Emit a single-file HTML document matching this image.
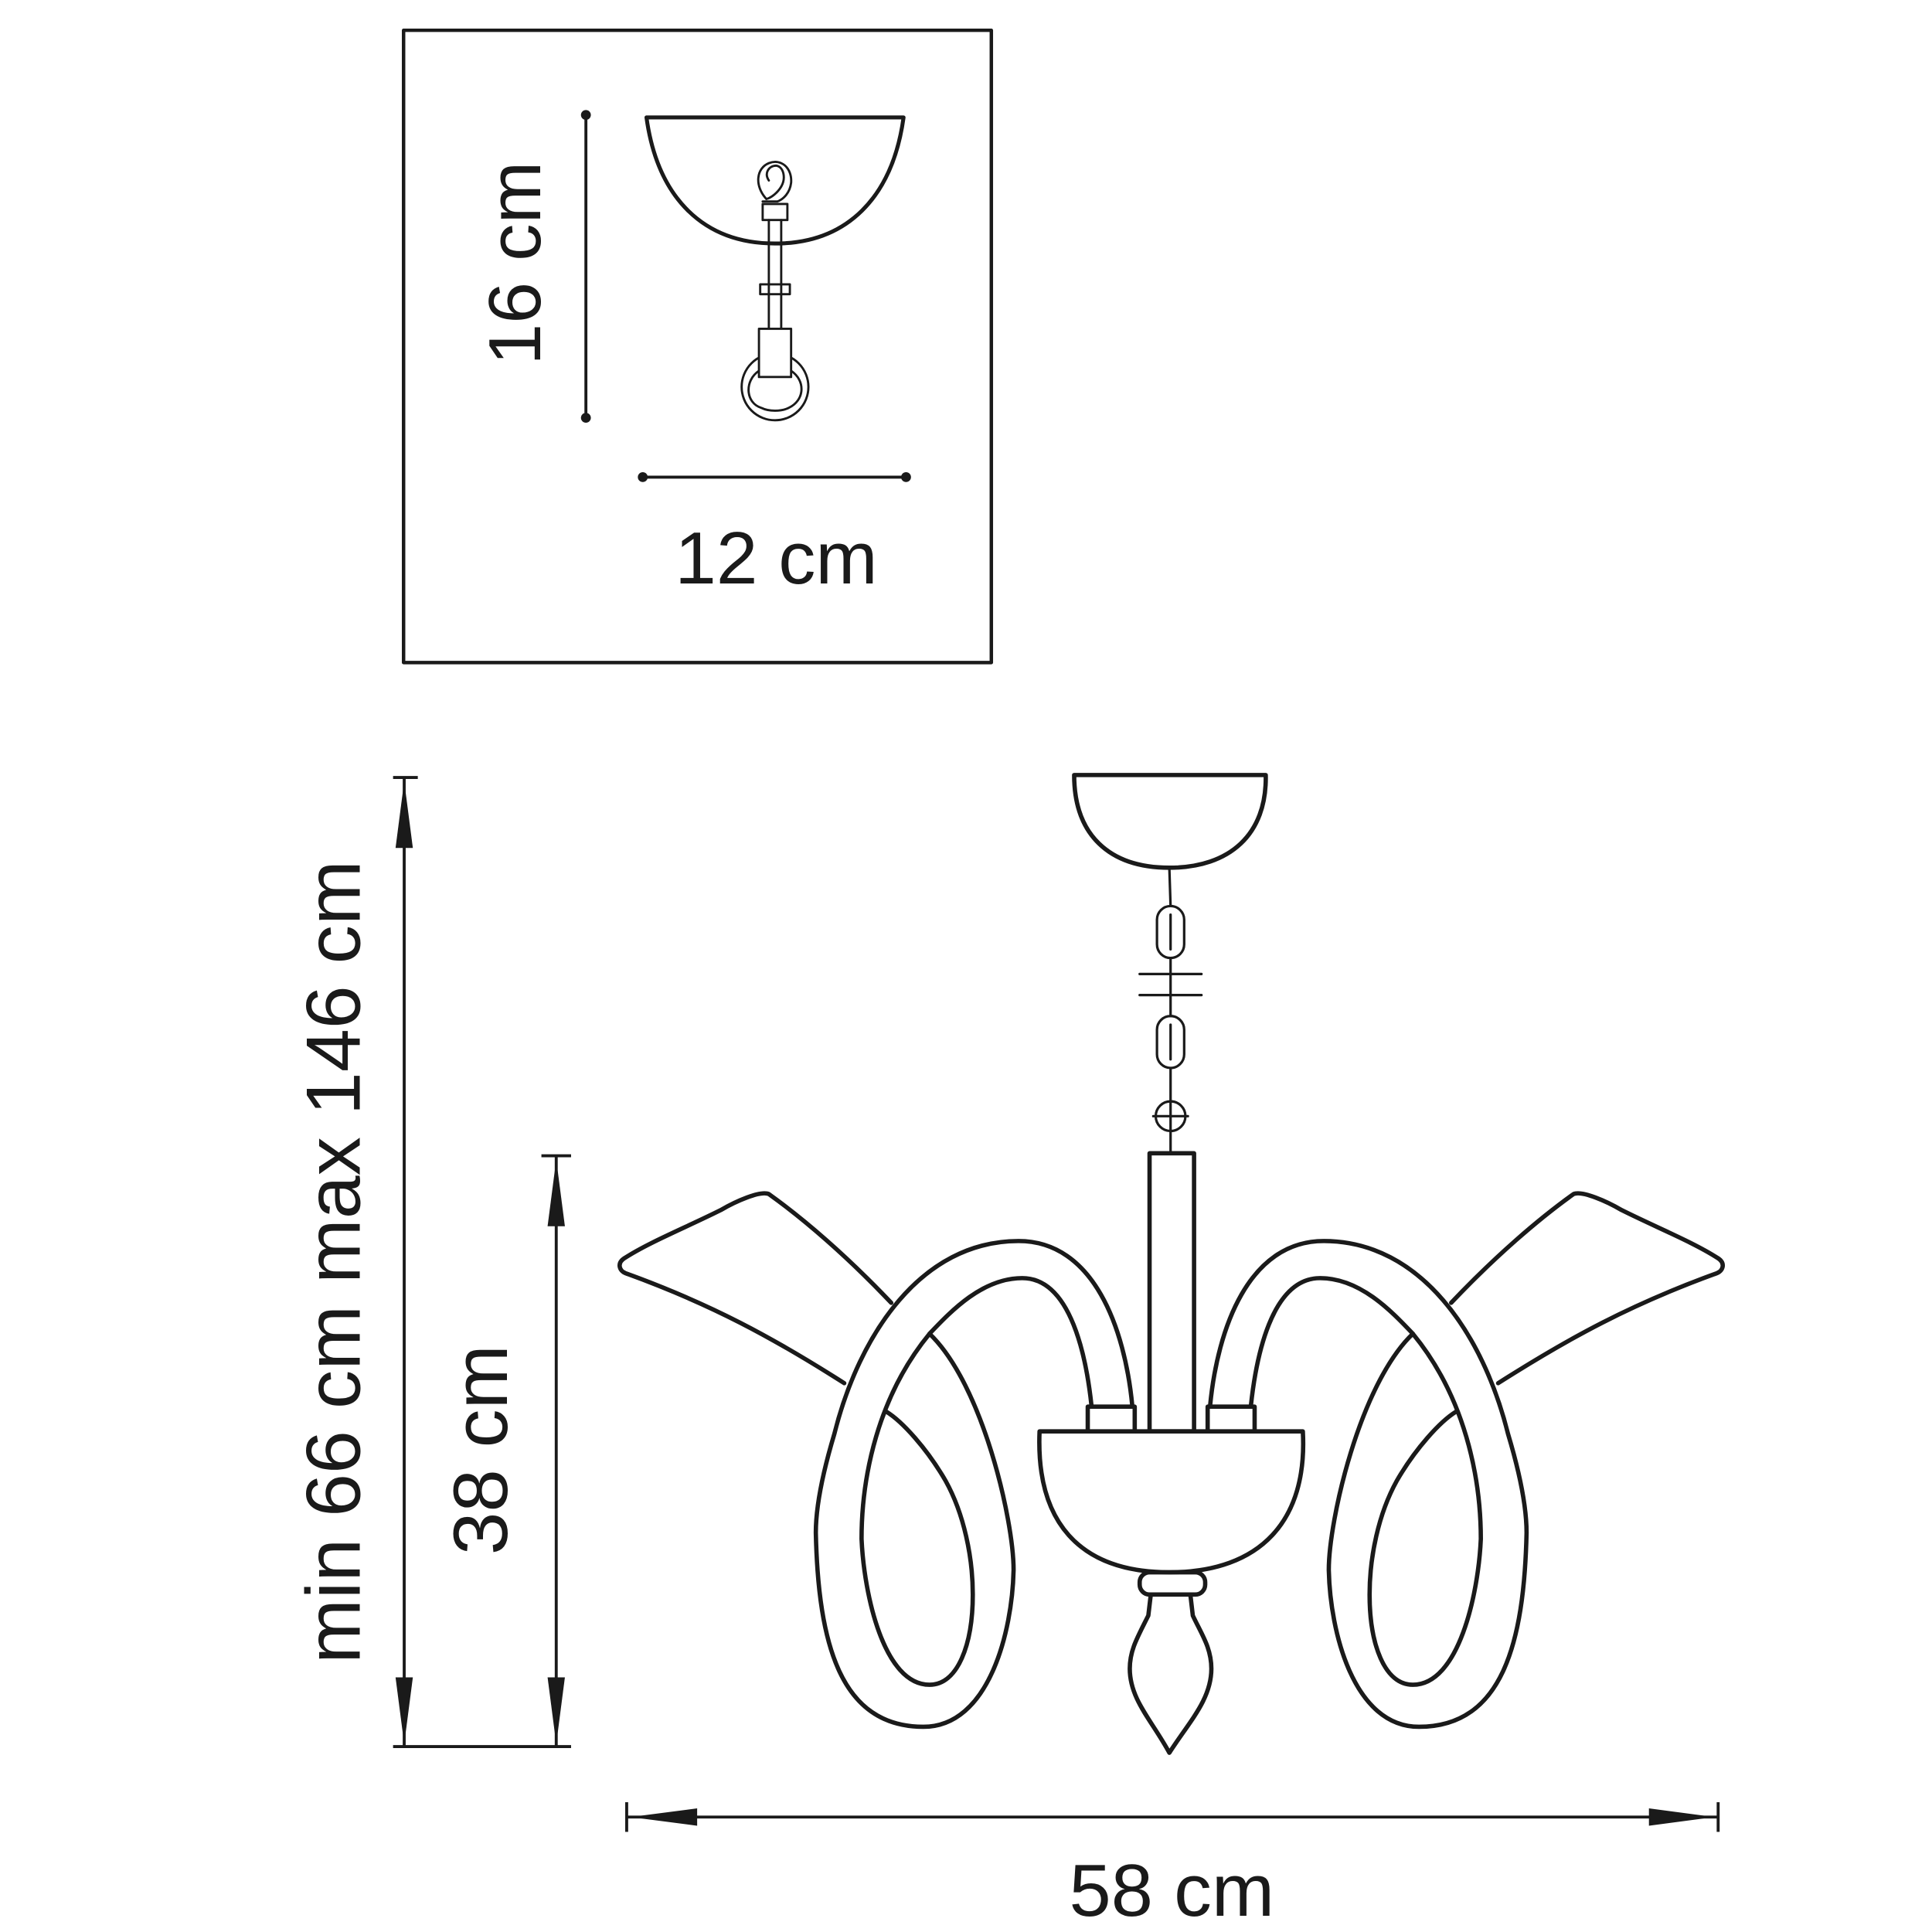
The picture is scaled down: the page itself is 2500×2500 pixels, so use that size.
<!DOCTYPE html>
<html><head><style>html,body{margin:0;padding:0;background:#fff}svg{display:block}</style></head>
<body>
<svg width="2500" height="2500" viewBox="0 0 1563 1563" xmlns="http://www.w3.org/2000/svg">
<g fill="none" stroke="#1a1a1a" stroke-width="3.2" stroke-linejoin="round" stroke-linecap="round">
<rect x="326.5" y="24.5" width="475.5" height="511.5" stroke-width="2.8"/>
<line x1="474" y1="93" x2="474" y2="338" stroke-width="2.4"/>
<line x1="520" y1="386" x2="733" y2="386" stroke-width="2.4"/>
<path d="M523,95 L731,95 C722,160 685,197 627,197 C569,197 532,160 523,95 Z"/>
<g stroke-width="1.8">
<path d="M620,161 C610,150 612,136 622,132 C632,128 641,136 640,148 C639,156 634,161 629,163 L617,163 M622,146 C618,140 622,134 628,134 C634,135 636,144 632,151 C629,156 624,160 620,161"/>
<rect x="617" y="165" width="20" height="13" fill="#fff"/>
<line x1="622" y1="178" x2="622" y2="266"/><line x1="632" y1="178" x2="632" y2="266"/>
<rect x="615" y="230" width="24" height="8"/>
<circle cx="627" cy="313" r="27"/>
<path d="M614,300 C602,308 603,326 616,330 C622,333 632,333 638,330 C651,324 652,308 640,300 Z" fill="#fff"/>
<rect x="614" y="266" width="26" height="39" fill="#fff"/>
</g>
</g>
<g fill="#1a1a1a">
<circle cx="474" cy="93" r="4"/><circle cx="474" cy="338" r="4"/>
<circle cx="520" cy="386" r="4"/><circle cx="733" cy="386" r="4"/>
</g>

<g fill="none" stroke="#1a1a1a" stroke-width="3.5" stroke-linejoin="round" stroke-linecap="round">
<path d="M869,627 L1024,627 C1025,675 995,702 946,702 C897,702 869,675 869,627 Z"/>
<g stroke-width="2">
<line x1="946" y1="702" x2="947" y2="733"/>
<rect x="936" y="733" width="22" height="42" rx="11"/>
<line x1="947" y1="740" x2="947" y2="768"/>
<line x1="947" y1="775" x2="947" y2="822"/>
<line x1="922" y1="788" x2="972" y2="788"/><line x1="922" y1="805" x2="972" y2="805"/>
<rect x="936" y="822" width="22" height="42" rx="11"/>
<line x1="947" y1="829" x2="947" y2="857"/>
<line x1="947" y1="864" x2="947" y2="933"/>
<circle cx="947" cy="903" r="12"/>
<line x1="933" y1="903" x2="961" y2="903"/>
</g>
<rect x="930" y="933" width="36" height="225"/>
<path d="M841,1158 L1054,1158 C1058,1230 1020,1272 946,1272 C872,1272 838,1230 841,1158 Z" fill="#fff"/>
<rect x="922" y="1272" width="53" height="18" rx="8"/>
<path d="M931,1290 L929,1307 C920,1325 914,1335 914,1350 C914,1375 932,1392 946,1418 C962,1393 980,1375 980,1350 C980,1333 972,1322 965,1307 L963,1290"/>
<g id="arm">
<rect x="977" y="1138" width="38" height="20" fill="#fff"/>
<path d="M979,1137 C985,1075 1010,1004 1071,1004 C1150,1004 1200,1080 1220,1160 C1232,1200 1235,1225 1235,1240 C1233,1330 1215,1397 1148,1397 C1095,1397 1076,1320 1075,1270 C1075,1230 1100,1120 1143,1079"/>
<path d="M1012,1137 C1016,1100 1028,1034 1068,1034 C1100,1034 1125,1060 1143,1079 C1185,1130 1198,1195 1198,1245 C1196,1290 1180,1363 1143,1363 C1120,1363 1108,1330 1108,1290 C1108,1260 1115,1225 1130,1198 C1145,1172 1165,1150 1178,1142"/>
<path d="M1174,1054 C1210,1016 1245,986 1273,966 C1280,963 1300,972 1312,979 C1340,993 1370,1005 1390,1018 C1396,1022 1394,1028 1389,1030 C1320,1055 1270,1082 1212,1119"/>
</g>
<use href="#arm" transform="translate(1895,0) scale(-1,1)"/>
</g>

<g stroke="#1a1a1a" stroke-width="2.4" fill="none">
<line x1="327" y1="629" x2="327" y2="1413"/>
<line x1="318" y1="629" x2="338" y2="629"/>
<line x1="318" y1="1413" x2="462" y2="1413"/>
<line x1="450" y1="935" x2="450" y2="1413"/>
<line x1="438" y1="935" x2="462" y2="935"/>
<line x1="507" y1="1470" x2="1390" y2="1470"/>
<line x1="507" y1="1458" x2="507" y2="1482"/>
<line x1="1390" y1="1458" x2="1390" y2="1482"/>
</g>
<g fill="#1a1a1a">
<polygon points="327,632 320,686 334,686"/>
<polygon points="327,1411 320,1357 334,1357"/>
<polygon points="450,938 443,992 457,992"/>
<polygon points="450,1411 443,1357 457,1357"/>
<polygon points="510,1470 564,1463 564,1477"/>
<polygon points="1387,1470 1334,1463 1334,1477"/>
</g>

<g font-family="'Liberation Sans', sans-serif" font-size="60" fill="#1a1a1a" text-anchor="middle">
<text x="628" y="472" textLength="164" lengthAdjust="spacingAndGlyphs">12 cm</text>
<text transform="translate(437,213) rotate(-90)" textLength="165" lengthAdjust="spacingAndGlyphs">16 cm</text>
<text transform="translate(291,1021) rotate(-90)" font-size="62" textLength="650" lengthAdjust="spacingAndGlyphs">min 66 cm max 146 cm</text>
<text transform="translate(410,1173) rotate(-90)" font-size="62" textLength="170" lengthAdjust="spacingAndGlyphs">38 cm</text>
<text x="948" y="1550" textLength="166" lengthAdjust="spacingAndGlyphs">58 cm</text>
</g>
</svg>
</body></html>
